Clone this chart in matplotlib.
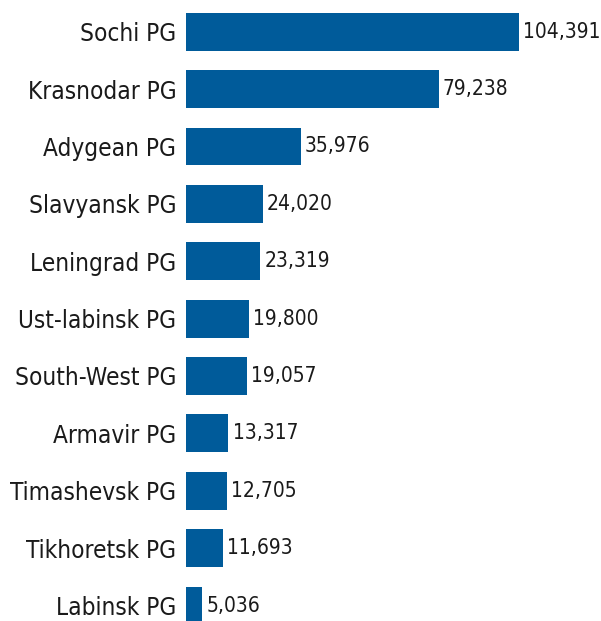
import matplotlib.pyplot as plt

# data
groups = ['Sochi PG', 'Krasnodar PG', 'Adygean PG', 'Slavyansk PG', 'Leningrad PG',
          'Ust-labinsk PG', 'South-West PG', 'Armavir PG', 'Timashevsk PG',
          'Tikhoretsk PG', 'Labinsk PG']
values = [104391, 79238, 35976, 24020, 23319, 19800, 19057, 13317, 12705, 11693, 5036]

# condensed DejaVu is the closest thing to the narrow font in the original
plt.rcParams['font.family'] = ['DejaVu Sans']
plt.rcParams['font.stretch'] = 'condensed'

fig = plt.figure(figsize=(6.01, 6.21), dpi=100)
ax = fig.add_axes([186 / 601, 0, 1 - 186 / 601, 1])

ypos = list(range(len(groups)))
ax.barh(ypos, values, height=0.66, color='#005B9A')

# value labels just right of each bar
for y, v in zip(ypos, values):
    ax.annotate(f'{v:,}', (v, y), xytext=(3, 0), textcoords='offset points',
                va='center', ha='left', fontsize=15, color='#1a1a1a')

ax.set_yticks(ypos)
ax.set_yticklabels(groups, fontsize=17.5, color='#1a1a1a')
ax.tick_params(axis='y', length=0, pad=7)
ax.set_xticks([])
ax.set_xlim(0, 130100)
ax.set_ylim(10.27, -0.552)
for s in ax.spines.values():
    s.set_visible(False)

fig.savefig('out.png', dpi=100)
